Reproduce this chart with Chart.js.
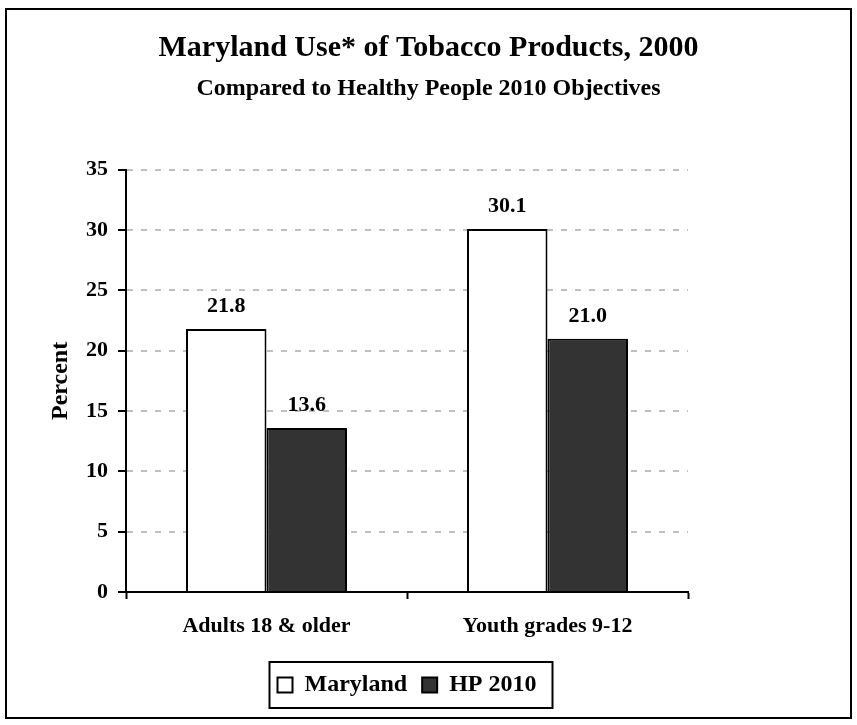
<!DOCTYPE html>
<html>
<head>
<meta charset="utf-8">
<script src="https://cdn.jsdelivr.net/npm/chart.js@4.4.1/dist/chart.umd.min.js"></script>
<style>
  html, body { margin: 0; padding: 0; background: #fff; }
  #wrap { position: relative; width: 857px; height: 725px; }
</style>
</head>
<body>
<div id="wrap"><canvas id="chart"></canvas></div>
<script>
const categories = ["Adults 18 & older", "Youth grades 9-12"];
const marylandValues = [21.8, 30.1];
const hp2010Values = [13.6, 21.0];
const seriesNames = ["Maryland", "HP 2010"];
const yTicks = [0, 5, 10, 15, 20, 25, 30, 35];

const serif = "'Liberation Serif', 'Times New Roman', serif";
Chart.defaults.color = "#000";
Chart.defaults.font.family = serif;
Chart.defaults.font.weight = "bold";

// value labels above each bar
const valueLabels = {
  id: "valueLabels",
  afterDatasetsDraw(chart) {
    const ctx = chart.ctx;
    ctx.save();
    ctx.font = "bold 22px " + serif;
    ctx.fillStyle = "#000";
    ctx.textAlign = "center";
    ctx.textBaseline = "alphabetic";
    chart.data.datasets.forEach((ds, i) => {
      chart.getDatasetMeta(i).data.forEach((bar, j) => {
        ctx.fillText(ds.data[j].toFixed(1), bar.x, bar.y - 17);
      });
    });
    ctx.restore();
  }
};

// outer frame and the box around the legend
const frames = {
  id: "frames",
  afterDraw(chart) {
    const ctx = chart.ctx;
    ctx.save();
    ctx.strokeStyle = "#000";
    ctx.lineWidth = 2;
    ctx.strokeRect(6, 9, 845, 709);
    const boxes = chart.legend.legendHitBoxes;
    if (boxes && boxes.length) {
      const first = boxes[0], last = boxes[boxes.length - 1];
      const left = first.left - 8;
      const right = last.left + last.width + 16;
      const top = first.top - 11;
      const bottom = first.top + first.height + 11;
      ctx.strokeRect(left, top, right - left, bottom - top);
    }
    ctx.restore();
  }
};

new Chart(document.getElementById("chart"), {
  type: "bar",
  data: {
    labels: categories,
    datasets: [
      {
        label: seriesNames[0],
        data: marylandValues,
        backgroundColor: "#ffffff",
        borderColor: "#000",
        borderWidth: 2,
        categoryPercentage: 0.573,
        barPercentage: 1
      },
      {
        label: seriesNames[1],
        data: hp2010Values,
        backgroundColor: "#333333",
        borderColor: "#000",
        borderWidth: 2,
        categoryPercentage: 0.573,
        barPercentage: 1
      }
    ]
  },
  options: {
    responsive: true,
    maintainAspectRatio: false,
    animation: false,
    layout: { padding: { top: 10, left: 0, right: 0, bottom: 18 } },
    plugins: {
      title: {
        display: true,
        text: "Maryland Use* of Tobacco Products, 2000",
        font: { size: 30, weight: "bold" },
        padding: { top: 20, bottom: 4 }
      },
      subtitle: {
        display: true,
        text: "Compared to Healthy People 2010 Objectives",
        color: "#000",
        font: { size: 24, weight: "bold", family: serif },
        padding: { top: 4, bottom: 67 }
      },
      legend: {
        position: "bottom",
        fullSize: false,
        labels: {
          boxWidth: 15,
          boxHeight: 15,
          padding: 15,
          color: "#000",
          font: { size: 24, weight: "bold" }
        }
      },
      tooltip: { enabled: false }
    },
    scales: {
      x: {
        grid: {
          display: true,
          drawOnChartArea: false,
          drawTicks: true,
          tickLength: 7,
          tickColor: "#000",
          tickWidth: 2,
          offset: true
        },
        border: { color: "#000", width: 2 },
        ticks: { padding: 14, font: { size: 22, weight: "bold" } },
        afterFit(scale) { scale.height = 66; }
      },
      y: {
        min: 0,
        max: 35,
        afterBuildTicks(scale) { scale.ticks = yTicks.map(v => ({ value: v })); },
        grid: {
          color: "#c0c0c0",
          lineWidth: 2,
          tickColor: "#000",
          tickWidth: 2,
          tickLength: 8
        },
        border: { color: "#000", width: 2, dash: [6, 8] },
        ticks: { padding: 10, font: { size: 22, weight: "bold" } },
        title: {
          display: true,
          text: "Percent",
          font: { size: 24, weight: "bold" },
          padding: { top: 46 }
        },
        afterFit(scale) { scale.width = 126; }
      },
      y2: {
        position: "right",
        display: true,
        grid: { display: false },
        border: { display: false },
        ticks: { display: false },
        afterFit(scale) { scale.width = 169; }
      }
    }
  },
  plugins: [valueLabels, frames]
});
</script>
</body>
</html>
